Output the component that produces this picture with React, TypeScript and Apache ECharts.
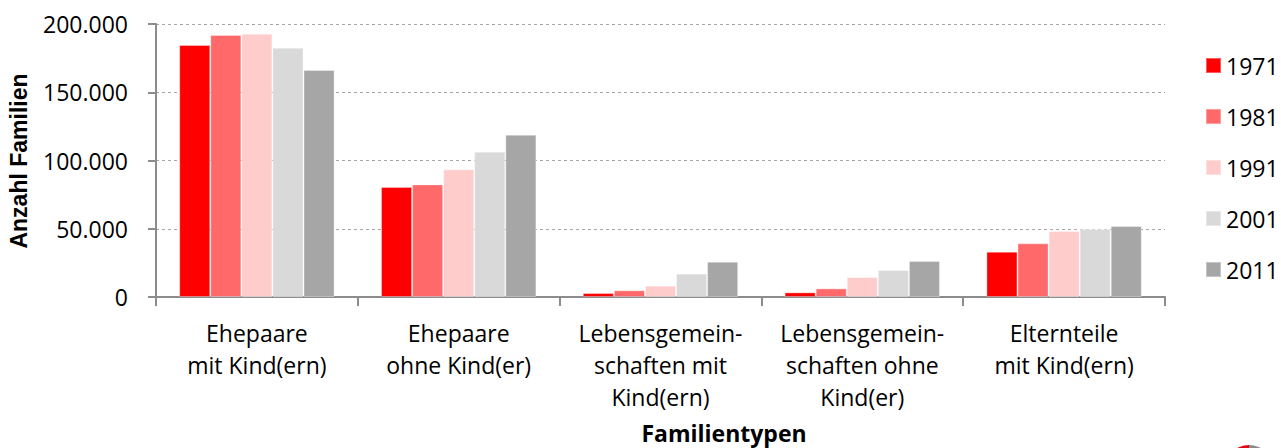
import React, { useEffect, useRef } from "react";
import * as echarts from "echarts";

const categories = [
  "Ehepaare\nmit Kind(ern)",
  "Ehepaare\nohne Kind(er)",
  "Lebensgemein-\nschaften mit\nKind(ern)",
  "Lebensgemein-\nschaften ohne\nKind(er)",
  "Elternteile\nmit Kind(ern)",
];
const years = ["1971", "1981", "1991", "2001", "2011"];
const values1971 = [184600, 80600, 2900, 3400, 33200];
const values1981 = [192000, 82500, 4900, 6300, 39300];
const values1991 = [192900, 93500, 8300, 14600, 48300];
const values2001 = [182600, 106400, 17100, 19800, 49800];
const values2011 = [166300, 118900, 25900, 26400, 52000];
const seriesValues = [values1971, values1981, values1991, values2001, values2011];
const colors = ["#FF0000", "#FF6969", "#FFCCCC", "#D9D9D9", "#A6A6A6"];
const yTicks = { min: 0, max: 200000, interval: 50000 };

const fmt = (v: number) => String(v).replace(/\B(?=(\d{3})+(?!\d))/g, ".");

export default function App() {
  const ref = useRef<HTMLDivElement>(null);
  useEffect(() => {
    if (!ref.current) return;
    const chart = echarts.init(ref.current, null, { renderer: "svg" });
    const font = "'Open Sans', 'Noto Sans', sans-serif";
    chart.setOption({
      animation: false,
      backgroundColor: "#ffffff",
      textStyle: { fontFamily: font, color: "#000" },
      grid: { left: 156, top: 24, right: 116, bottom: 151, containLabel: false },
      legend: {
        orient: "vertical",
        left: 1205,
        top: 54,
        padding: 0,
        itemWidth: 15,
        itemHeight: 15,
        itemGap: 28,
        icon: "rect",
        data: years,
        textStyle: { fontFamily: font, fontSize: 23, color: "#000", lineHeight: 22, padding: [0, 0, 0, 0] },
      },
      xAxis: {
        type: "category",
        data: categories,
        axisLine: { lineStyle: { color: "#8c8c8c", width: 2 } },
        axisTick: { show: true, length: 9, lineStyle: { color: "#8c8c8c", width: 2 } },
        axisLabel: {
          interval: 0,
          margin: 20,
          fontSize: 23,
          lineHeight: 32,
          color: "#000",
          fontFamily: font,
        },
      },
      yAxis: {
        type: "value",
        min: yTicks.min,
        max: yTicks.max,
        interval: yTicks.interval,
        axisLine: { show: true, lineStyle: { color: "#8c8c8c", width: 2 } },
        axisTick: { show: true, length: 8, lineStyle: { color: "#8c8c8c", width: 2 } },
        axisLabel: {
          formatter: (v: number) => fmt(v),
          fontSize: 23,
          margin: 28,
          color: "#000",
          fontFamily: font,
        },
        splitLine: { show: true, lineStyle: { color: "#a6a6a6", type: [3, 3], width: 1 } },
      },
      series: years.map((y, i) => ({
        name: y,
        type: "bar",
        data: seriesValues[i],
        barGap: "0%",
        barCategoryGap: "23%",
        itemStyle: {
          color: colors[i],
          borderColor: "rgba(255,255,255,0.35)",
          borderWidth: 1,
        },
      })),
      graphic: [
        {
          type: "text",
          x: 19,
          y: 161,
          rotation: Math.PI / 2,
          style: {
            text: "Anzahl Familien",
            fontFamily: "'Liberation Sans', Arial, sans-serif",
            fontWeight: "bold",
            fontSize: 23,
            fill: "#000",
            align: "center",
            verticalAlign: "middle",
          },
        },
        {
          type: "text",
          x: 724,
          y: 433,
          style: {
            text: "Familientypen",
            fontFamily: font,
            fontWeight: "bold",
            fontSize: 23,
            fill: "#000",
            align: "center",
            verticalAlign: "middle",
          },
        },
        {
          type: "sector",
          shape: { cx: 1249, cy: 470, r: 25, r0: 16, startAngle: Math.PI, endAngle: Math.PI * 1.5 },
          style: { fill: "#e30613" },
        },
        {
          type: "sector",
          shape: { cx: 1249, cy: 470, r: 25, r0: 16, startAngle: Math.PI * 1.5, endAngle: Math.PI * 2 },
          style: { fill: "#8a8a8a" },
        },
      ],
    });
    return () => chart.dispose();
  }, []);
  return (
    <div
      ref={ref}
      style={{ position: "fixed", left: 0, top: 0, width: 1281, height: 448, background: "#fff" }}
    />
  );
}
